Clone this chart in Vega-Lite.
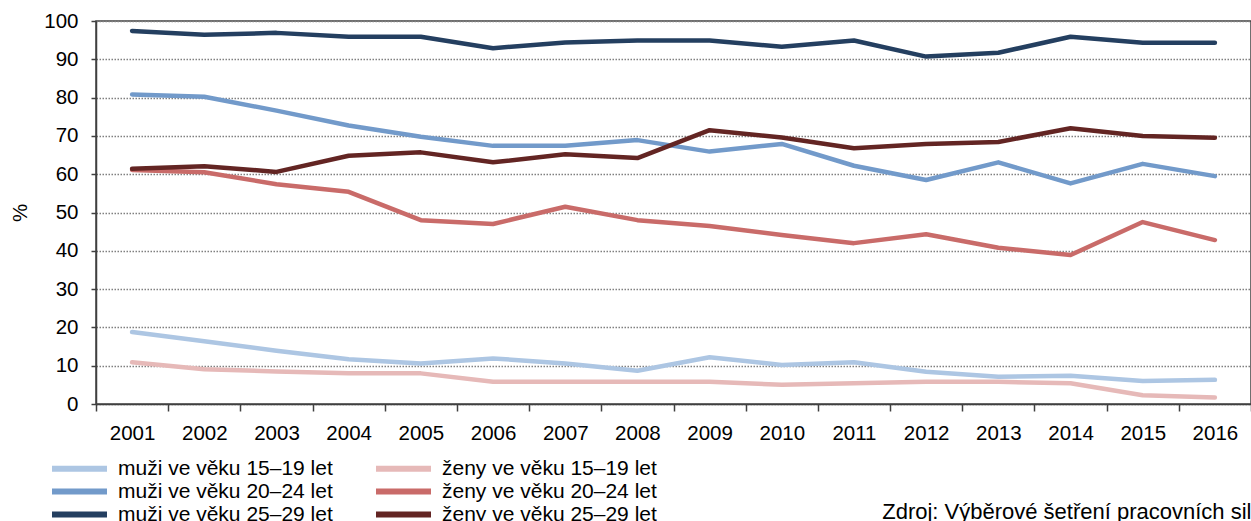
{
  "$schema": "https://vega.github.io/schema/vega-lite/v6.json",
  "autosize": {"type": "none"},
  "padding": {"left": 96, "top": 21, "right": 0, "bottom": 117},
  "width": 1155,
  "height": 383,
  "background": "white",
  "config": {
    "font": "Liberation Sans",
    "view": {"stroke": "#404040", "strokeWidth": 1.5}
  },
  "datasets": {
    "rows": [
      {"year": "2001", "g": "muži ve věku 15–19 let", "v": 18.8},
      {"year": "2002", "g": "muži ve věku 15–19 let", "v": 16.4},
      {"year": "2003", "g": "muži ve věku 15–19 let", "v": 13.9},
      {"year": "2004", "g": "muži ve věku 15–19 let", "v": 11.7},
      {"year": "2005", "g": "muži ve věku 15–19 let", "v": 10.6},
      {"year": "2006", "g": "muži ve věku 15–19 let", "v": 11.9},
      {"year": "2007", "g": "muži ve věku 15–19 let", "v": 10.6},
      {"year": "2008", "g": "muži ve věku 15–19 let", "v": 8.7},
      {"year": "2009", "g": "muži ve věku 15–19 let", "v": 12.2},
      {"year": "2010", "g": "muži ve věku 15–19 let", "v": 10.2},
      {"year": "2011", "g": "muži ve věku 15–19 let", "v": 10.9},
      {"year": "2012", "g": "muži ve věku 15–19 let", "v": 8.4},
      {"year": "2013", "g": "muži ve věku 15–19 let", "v": 7.1},
      {"year": "2014", "g": "muži ve věku 15–19 let", "v": 7.4},
      {"year": "2015", "g": "muži ve věku 15–19 let", "v": 6.0},
      {"year": "2016", "g": "muži ve věku 15–19 let", "v": 6.3},
      {"year": "2001", "g": "ženy ve věku 15–19 let", "v": 10.9},
      {"year": "2002", "g": "ženy ve věku 15–19 let", "v": 9.1},
      {"year": "2003", "g": "ženy ve věku 15–19 let", "v": 8.5},
      {"year": "2004", "g": "ženy ve věku 15–19 let", "v": 8.0},
      {"year": "2005", "g": "ženy ve věku 15–19 let", "v": 8.0},
      {"year": "2006", "g": "ženy ve věku 15–19 let", "v": 5.8},
      {"year": "2007", "g": "ženy ve věku 15–19 let", "v": 5.8},
      {"year": "2008", "g": "ženy ve věku 15–19 let", "v": 5.8},
      {"year": "2009", "g": "ženy ve věku 15–19 let", "v": 5.8},
      {"year": "2010", "g": "ženy ve věku 15–19 let", "v": 5.0},
      {"year": "2011", "g": "ženy ve věku 15–19 let", "v": 5.4},
      {"year": "2012", "g": "ženy ve věku 15–19 let", "v": 5.8},
      {"year": "2013", "g": "ženy ve věku 15–19 let", "v": 5.8},
      {"year": "2014", "g": "ženy ve věku 15–19 let", "v": 5.4},
      {"year": "2015", "g": "ženy ve věku 15–19 let", "v": 2.3},
      {"year": "2016", "g": "ženy ve věku 15–19 let", "v": 1.7},
      {"year": "2001", "g": "muži ve věku 20–24 let", "v": 80.8},
      {"year": "2002", "g": "muži ve věku 20–24 let", "v": 80.2},
      {"year": "2003", "g": "muži ve věku 20–24 let", "v": 76.6},
      {"year": "2004", "g": "muži ve věku 20–24 let", "v": 72.7},
      {"year": "2005", "g": "muži ve věku 20–24 let", "v": 69.8},
      {"year": "2006", "g": "muži ve věku 20–24 let", "v": 67.4},
      {"year": "2007", "g": "muži ve věku 20–24 let", "v": 67.4},
      {"year": "2008", "g": "muži ve věku 20–24 let", "v": 68.9},
      {"year": "2009", "g": "muži ve věku 20–24 let", "v": 65.9},
      {"year": "2010", "g": "muži ve věku 20–24 let", "v": 67.9},
      {"year": "2011", "g": "muži ve věku 20–24 let", "v": 62.2},
      {"year": "2012", "g": "muži ve věku 20–24 let", "v": 58.5},
      {"year": "2013", "g": "muži ve věku 20–24 let", "v": 63.1},
      {"year": "2014", "g": "muži ve věku 20–24 let", "v": 57.6},
      {"year": "2015", "g": "muži ve věku 20–24 let", "v": 62.7},
      {"year": "2016", "g": "muži ve věku 20–24 let", "v": 59.5},
      {"year": "2001", "g": "ženy ve věku 20–24 let", "v": 61.1},
      {"year": "2002", "g": "ženy ve věku 20–24 let", "v": 60.5},
      {"year": "2003", "g": "ženy ve věku 20–24 let", "v": 57.4},
      {"year": "2004", "g": "ženy ve věku 20–24 let", "v": 55.4},
      {"year": "2005", "g": "ženy ve věku 20–24 let", "v": 48.0},
      {"year": "2006", "g": "ženy ve věku 20–24 let", "v": 47.0},
      {"year": "2007", "g": "ženy ve věku 20–24 let", "v": 51.5},
      {"year": "2008", "g": "ženy ve věku 20–24 let", "v": 48.0},
      {"year": "2009", "g": "ženy ve věku 20–24 let", "v": 46.5},
      {"year": "2010", "g": "ženy ve věku 20–24 let", "v": 44.1},
      {"year": "2011", "g": "ženy ve věku 20–24 let", "v": 42.0},
      {"year": "2012", "g": "ženy ve věku 20–24 let", "v": 44.3},
      {"year": "2013", "g": "ženy ve věku 20–24 let", "v": 40.8},
      {"year": "2014", "g": "ženy ve věku 20–24 let", "v": 38.9},
      {"year": "2015", "g": "ženy ve věku 20–24 let", "v": 47.5},
      {"year": "2016", "g": "ženy ve věku 20–24 let", "v": 42.8},
      {"year": "2001", "g": "muži ve věku 25–29 let", "v": 97.4},
      {"year": "2002", "g": "muži ve věku 25–29 let", "v": 96.4},
      {"year": "2003", "g": "muži ve věku 25–29 let", "v": 96.9},
      {"year": "2004", "g": "muži ve věku 25–29 let", "v": 95.9},
      {"year": "2005", "g": "muži ve věku 25–29 let", "v": 95.9},
      {"year": "2006", "g": "muži ve věku 25–29 let", "v": 92.9},
      {"year": "2007", "g": "muži ve věku 25–29 let", "v": 94.4},
      {"year": "2008", "g": "muži ve věku 25–29 let", "v": 94.9},
      {"year": "2009", "g": "muži ve věku 25–29 let", "v": 94.9},
      {"year": "2010", "g": "muži ve věku 25–29 let", "v": 93.3},
      {"year": "2011", "g": "muži ve věku 25–29 let", "v": 94.9},
      {"year": "2012", "g": "muži ve věku 25–29 let", "v": 90.7},
      {"year": "2013", "g": "muži ve věku 25–29 let", "v": 91.7},
      {"year": "2014", "g": "muži ve věku 25–29 let", "v": 95.9},
      {"year": "2015", "g": "muži ve věku 25–29 let", "v": 94.3},
      {"year": "2016", "g": "muži ve věku 25–29 let", "v": 94.3},
      {"year": "2001", "g": "ženy ve věku 25–29 let", "v": 61.4},
      {"year": "2002", "g": "ženy ve věku 25–29 let", "v": 62.1},
      {"year": "2003", "g": "ženy ve věku 25–29 let", "v": 60.6},
      {"year": "2004", "g": "ženy ve věku 25–29 let", "v": 64.8},
      {"year": "2005", "g": "ženy ve věku 25–29 let", "v": 65.7},
      {"year": "2006", "g": "ženy ve věku 25–29 let", "v": 63.1},
      {"year": "2007", "g": "ženy ve věku 25–29 let", "v": 65.2},
      {"year": "2008", "g": "ženy ve věku 25–29 let", "v": 64.2},
      {"year": "2009", "g": "ženy ve věku 25–29 let", "v": 71.5},
      {"year": "2010", "g": "ženy ve věku 25–29 let", "v": 69.6},
      {"year": "2011", "g": "ženy ve věku 25–29 let", "v": 66.8},
      {"year": "2012", "g": "ženy ve věku 25–29 let", "v": 67.9},
      {"year": "2013", "g": "ženy ve věku 25–29 let", "v": 68.4},
      {"year": "2014", "g": "ženy ve věku 25–29 let", "v": 72.0},
      {"year": "2015", "g": "ženy ve věku 25–29 let", "v": 70.0},
      {"year": "2016", "g": "ženy ve věku 25–29 let", "v": 69.5}
    ]
  },
  "data": {"name": "rows"},
  "mark": {"type": "line", "strokeWidth": 4.5, "strokeCap": "round", "strokeJoin": "round"},
  "encoding": {
    "x": {
      "field": "year",
      "type": "ordinal",
      "scale": {"type": "band", "paddingInner": 0, "paddingOuter": 0},
      "axis": {
        "title": "Zdroj: Výběrové šetření pracovních sil",
        "titleFontSize": 22,
        "titleFontWeight": "normal",
        "titleColor": "#000000",
        "titleAlign": "right",
        "titleAnchor": "end",
        "titleBaseline": "alphabetic",
        "titleX": 1155,
        "titleY": 114,
        "labelAngle": 0,
        "labelFontSize": 20.5,
        "labelColor": "#000000",
        "labelPadding": 12.5,
        "tickBand": "extent",
        "tickSize": 7,
        "tickColor": "#404040",
        "tickWidth": 1.5,
        "domainColor": "#404040",
        "domainWidth": 1.5,
        "grid": false
      }
    },
    "y": {
      "field": "v",
      "type": "quantitative",
      "scale": {"domain": [0, 100], "nice": false},
      "axis": {
        "title": "%",
        "titleFontSize": 20.5,
        "titleFontWeight": "normal",
        "titleColor": "#000000",
        "titlePadding": 13,
        "values": [0, 10, 20, 30, 40, 50, 60, 70, 80, 90, 100],
        "labelFontSize": 20.5,
        "labelColor": "#000000",
        "labelPadding": 13,
        "tickSize": 5,
        "tickColor": "#404040",
        "tickWidth": 1.5,
        "domainColor": "#404040",
        "domainWidth": 1.5,
        "grid": true,
        "gridColor": "#808080",
        "gridWidth": 1.5,
        "gridDash": [1.5, 1.5]
      }
    },
    "color": {
      "field": "g",
      "type": "nominal",
      "sort": null,
      "scale": {
        "domain": ["muži ve věku 15–19 let", "muži ve věku 20–24 let", "muži ve věku 25–29 let", "ženy ve věku 15–19 let", "ženy ve věku 20–24 let", "ženy ve věku 25–29 let"],
        "range": ["#adc6e3", "#729aca", "#243f60", "#e6b9b8", "#c96b69", "#632523"]
      },
      "legend": {
        "title": null,
        "orient": "none",
        "legendX": -44,
        "legendY": 437,
        "columns": 2,
        "columnPadding": 31,
        "rowPadding": -4,
        "padding": 0,
        "symbolType": "M-1.4,0H5.933",
        "symbolSize": 225,
        "symbolStrokeWidth": 6,
        "symbolOpacity": 1,
        "labelFontSize": 21,
        "labelColor": "#000000",
        "labelOffset": 45,
        "labelLimit": 400
      }
    }
  }
}
